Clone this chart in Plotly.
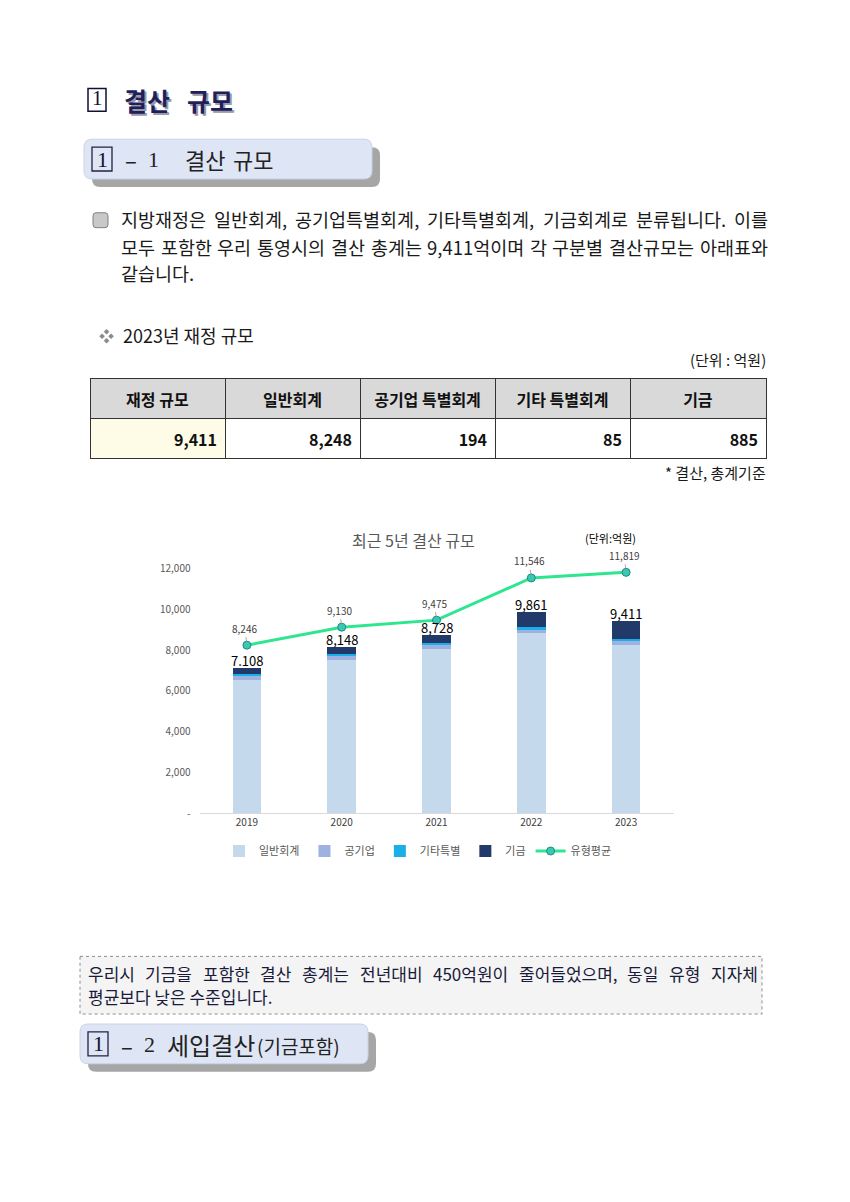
import plotly.graph_objects as go

W, H = 850, 1202

# ---------------- data ----------------
years = ["2019", "2020", "2021", "2022", "2023"]
general = [6560, 7500, 8060, 8840, 8248]      # 일반회계
public_ent = [190, 240, 210, 170, 194]         # 공기업
other_spec = [80, 70, 70, 110, 85]             # 기타특별
funds = [278, 338, 388, 741, 885]              # 기금
total_labels = ["7.108", "8,148", "8,728", "9,861", "9,411"]
type_avg = [8246, 9130, 9475, 11546, 11819]    # 유형평균
ytick_vals = [0, 2000, 4000, 6000, 8000, 10000, 12000]
ytick_text = ["-", "2,000", "4,000", "6,000", "8,000", "10,000", "12,000"]

table_header = ["재정 규모", "일반회계", "공기업 특별회계", "기타 특별회계", "기금"]
table_values = ["9,411", "8,248", "194", "85", "885"]

FONT = "Noto Sans CJK KR"


def X(px):
    return px / W


def Y(py):
    return 1 - py / H


def rrect(x0, y0, x1, y1, r):
    return (f"M {X(x0+r)} {Y(y0)} L {X(x1-r)} {Y(y0)} Q {X(x1)} {Y(y0)} {X(x1)} {Y(y0+r)} "
            f"L {X(x1)} {Y(y1-r)} Q {X(x1)} {Y(y1)} {X(x1-r)} {Y(y1)} "
            f"L {X(x0+r)} {Y(y1)} Q {X(x0)} {Y(y1)} {X(x0)} {Y(y1-r)} "
            f"L {X(x0)} {Y(y0+r)} Q {X(x0)} {Y(y0)} {X(x0+r)} {Y(y0)} Z")


annotations = []


def txt(px, py, text, size, color="#1a1a1a", anchor="left", family=FONT):
    annotations.append(dict(x=X(px), y=Y(py), xref="paper", yref="paper", text=text,
                            xanchor=anchor, yanchor="middle", showarrow=False,
                            font=dict(family=family, size=size, color=color)))


def char_w(c):
    if c == " ":
        return 0.224
    if c in ",.":
        return 0.26
    if c.isdigit():
        return 0.55
    if ord(c) > 0x1100:
        return 0.92
    return 0.5


def justify(line, x0, x1, py, size, color):
    words = line.split(" ")
    widths = [sum(char_w(c) for c in w) * size for w in words]
    gap = (x1 - x0 - sum(widths)) / (len(words) - 1)
    x = x0
    for w, wd in zip(words, widths):
        txt(x, py, w, size, color)
        x += wd + gap


fig = go.Figure()

# ---------------- chart ----------------
bar_specs = [
    ("일반회계", general, "#C5D9ED"),
    ("공기업", public_ent, "#9DB2E0"),
    ("기타특별", other_spec, "#1AAFE6"),
    ("기금", funds, "#213A69"),
]
for name, vals, col in bar_specs:
    fig.add_trace(go.Bar(x=years, y=vals, name=name, marker=dict(color=col, line=dict(width=0)),
                         width=0.3, hoverinfo="skip"))

fig.add_trace(go.Scatter(x=years, y=type_avg, name="유형평균", mode="lines+markers",
                         line=dict(color="#2EE68F", width=3),
                         marker=dict(size=8, color="#3CC7B5", line=dict(color="#1E8C80", width=1)),
                         hoverinfo="skip"))

totals = [g + p + o + f for g, p, o, f in zip(general, public_ent, other_spec, funds)]
for i, (tot, lab) in enumerate(zip(totals, total_labels)):
    annotations.append(dict(x=i, y=tot, xref="x", yref="y", text=lab, showarrow=False,
                            yanchor="middle", yshift=8, font=dict(family=FONT, size=13, color="#000000")))
for i, v in enumerate(type_avg):
    annotations.append(dict(x=i, y=v, xref="x", yref="y", text=f"{v:,}", showarrow=True,
                            arrowhead=0, arrowwidth=0.8, arrowcolor="#C08080", ax=-2, ay=-17,
                            standoff=4, font=dict(family=FONT, size=10, color="#404040")))

# chart title and unit
txt(413, 543, "최근 5년 결산 규모", 16, "#595959", "center")
txt(610, 541, "(단위:억원)", 11, "#000000", "center")

# ---------------- page text ----------------
TXT = "#1a1a1a"
# heading 1
txt(97, 99, "1", 21, "#111133", "center", "Liberation Serif")
for px, w in [(122, "결산"), (185, "규모")]:
    txt(px + 2, 103, f"<b>{w}</b>", 25, "#9a9aa8")
    txt(px, 101, f"<b>{w}</b>", 25, "#1f1f5c")

# subheading 1
txt(102, 160, "1", 22, "#111133", "center", "Liberation Serif")
txt(131, 160, "–", 22, "#222222", "center")
txt(153, 160, "1", 22, "#222222", "center", "Liberation Serif")
txt(183, 160, "결산", 22, "#222222")
txt(231, 160, "규모", 22, "#222222")

# subheading 2
txt(98, 1050, "1", 22, "#111133", "center", "Liberation Serif")
txt(127, 1051, "–", 22, "#222222", "center")
txt(149, 1051, "2", 22, "#222222", "center", "Liberation Serif")
txt(165, 1051, "세입결산", 24, "#222222")
txt(255, 1052, "(기금포함)", 19, "#222222")

justify("지방재정은 일반회계, 공기업특별회계, 기타특별회계, 기금회계로 분류됩니다. 이를", 119, 766, 220, 18.5, TXT)
justify("모두 포함한 우리 통영시의 결산 총계는 9,411억이며 각 구분별 결산규모는 아래표와", 119, 766, 248, 18.5, TXT)
txt(119, 275, "같습니다.", 18.5, TXT)

txt(97, 337, "❖", 15, "#8a8a8a")
txt(121, 337, "2023년 재정 규모", 18, TXT)
txt(768, 362, "(단위 : 억원)", 15, TXT, "right")
txt(768, 475, "* 결산, 총계기준", 15, TXT, "right")

justify("우리시 기금을 포함한 결산 총계는 전년대비 450억원이 줄어들었으며, 동일 유형 지자체", 86, 756, 979, 17, "#1a1a3a")
txt(86, 1002, "평균보다 낮은 수준입니다.", 17, "#1a1a3a")

# ---------------- shapes ----------------
shapes = [
    # heading 1 boxed digit
    dict(type="rect", xref="paper", yref="paper", x0=X(88), x1=X(106), y0=Y(89), y1=Y(112),
         line=dict(color="#111133", width=1.5), fillcolor="rgba(0,0,0,0)"),
    # paragraph bullet
    dict(type="path", xref="paper", yref="paper", path=rrect(93, 214, 108, 229, 3),
         line=dict(color="#808080", width=1), fillcolor="#C8C8C8"),
    # bottom box
    dict(type="rect", xref="paper", yref="paper", x0=X(80), x1=X(762), y0=Y(962), y1=Y(1020),
         line=dict(color="#8c8c8c", width=1, dash="dot"), fillcolor="#F4F4F4", layer="below"),
]
for (x0, y0) in [(84, 140), (80, 1030)]:
    shapes.append(dict(type="path", xref="paper", yref="paper", path=rrect(x0 + 8, y0 + 8, x0 + 296, y0 + 48, 8),
                       line=dict(width=0), fillcolor="#A6A6A6", layer="below"))
    shapes.append(dict(type="path", xref="paper", yref="paper", path=rrect(x0, y0, x0 + 288, y0 + 40, 8),
                       line=dict(color="#C9D3E8", width=1), fillcolor="#DEE5F4", layer="below"))
    shapes.append(dict(type="rect", xref="paper", yref="paper", x0=X(x0 + 8), x1=X(x0 + 28),
                       y0=Y(y0 + 8), y1=Y(y0 + 32), line=dict(color="#222244", width=1.3),
                       fillcolor="rgba(0,0,0,0)"))

# ---------------- table ----------------
fig.add_trace(go.Table(
    domain=dict(x=[X(90), X(766)], y=[Y(464), Y(381)]),
    columnwidth=[135, 135, 135, 135, 136],
    header=dict(values=[f"<b>{h}</b>" for h in table_header], height=38, align="center",
                fill=dict(color="#D9D9D9"), line=dict(color="#333333", width=1),
                font=dict(family=FONT, size=16, color="#111111")),
    cells=dict(values=[[f"<b>{v}</b>"] for v in table_values], height=38, align="right",
               fill=dict(color=[["#FEFCE6"], ["#FFFFFF"], ["#FFFFFF"], ["#FFFFFF"], ["#FFFFFF"]]),
               line=dict(color="#333333", width=1),
               font=dict(family=FONT, size=16, color="#111111")),
))

fig.update_layout(
    width=W, height=H, margin=dict(l=0, r=0, t=0, b=0),
    paper_bgcolor="white", plot_bgcolor="white",
    barmode="stack", bargap=0.7,
    xaxis=dict(domain=[X(199.5), X(673.5)], type="category", range=[-0.5, 4.5],
               showline=True, linecolor="#D9D9D9", linewidth=1, ticks="", showgrid=False,
               tickfont=dict(family=FONT, size=10, color="#404040"), fixedrange=True),
    yaxis=dict(domain=[Y(818), Y(559.7)], range=[0, 12600], tickvals=ytick_vals, ticktext=ytick_text,
               showgrid=False, zeroline=False, showline=False, ticks="",
               ticklabelstandoff=8,
               tickfont=dict(family=FONT, size=10, color="#595959"), fixedrange=True),
    legend=dict(orientation="h", x=X(418), xanchor="center", y=Y(856), yanchor="middle",
                traceorder="normal", font=dict(family=FONT, size=11, color="#595959"),
                bgcolor="rgba(0,0,0,0)", itemwidth=30),
    annotations=annotations,
    shapes=shapes,
    showlegend=True,
)

fig.write_html("out.html", config={"displayModeBar": False},
               post_script="document.body.style.margin='0';")
